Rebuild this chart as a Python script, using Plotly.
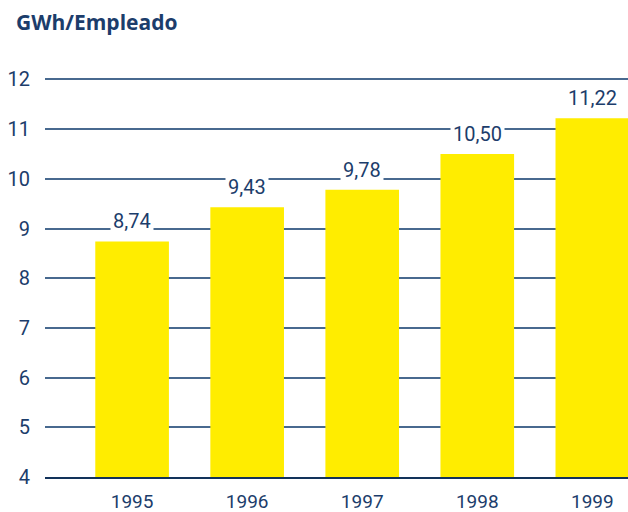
import plotly.graph_objects as go

years = ["1995", "1996", "1997", "1998", "1999"]
values = [8.74, 9.43, 9.78, 10.50, 11.22]
value_labels = ["8,74", "9,43", "9,78", "10,50", "11,22"]
y_ticks = [4, 5, 6, 7, 8, 9, 10, 11, 12]

navy = "#1c3d6b"
grid = "#48698f"

fig = go.Figure()
fig.add_trace(go.Bar(x=years, y=values, marker=dict(color="#ffed00", line=dict(width=0)),
                     hoverinfo="x+y"))

for i, (v, lab) in enumerate(zip(values, value_labels)):
    fig.add_annotation(x=i, y=v, text=lab, showarrow=False, yanchor="bottom", yshift=5,
                       bgcolor="white", borderpad=2,
                       font=dict(family="Roboto", size=20, color=navy))

fig.add_annotation(xref="paper", yref="paper", x=-0.054, y=1.0, yshift=56,
                   xanchor="left", yanchor="middle", showarrow=False,
                   text="<b>GWh/Empleado</b>",
                   font=dict(family="Open Sans", size=21, color=navy))

fig.update_layout(
    width=628, height=512,
    margin=dict(l=45, r=0, t=78, b=35),
    plot_bgcolor="white", paper_bgcolor="white",
    bargap=0.36, showlegend=False,
    xaxis=dict(type="category", range=[-0.757, 4.31], showgrid=False, ticks="",
               showline=True, linecolor="#12325a", linewidth=2, automargin=False,
               tickfont=dict(family="Roboto", size=19, color=navy), ticklabelstandoff=6),
    yaxis=dict(range=[4, 12.03], tickvals=y_ticks, showgrid=True, gridcolor=grid, gridwidth=1.5,
               zeroline=False, ticks="", ticklabelstandoff=14, automargin=False,
               tickfont=dict(family="Roboto", size=20, color=navy)),
)

fig.write_html("out.html", config={"displayModeBar": False},
               post_script="document.body.style.margin='0';")
